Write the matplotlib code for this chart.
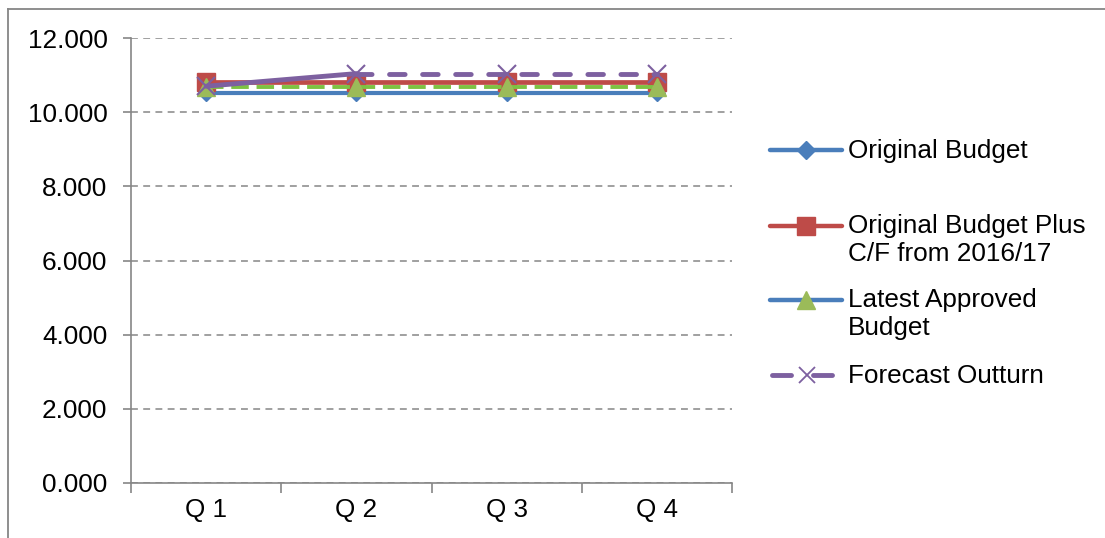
import matplotlib.pyplot as plt
from matplotlib.lines import Line2D

plt.rcParams['font.family'] = ['Liberation Sans', 'DejaVu Sans']

quarters = ["Q 1", "Q 2", "Q 3", "Q 4"]
original_budget = [10.52, 10.52, 10.52, 10.52]
budget_plus_cf = [10.82, 10.82, 10.82, 10.82]
latest_approved = [10.67, 10.67, 10.67, 10.67]
forecast_outturn = [10.70, 11.04, 11.04, 11.04]
yticks = [0, 2, 4, 6, 8, 10, 12]

BLUE = "#4A7EBB"
RED = "#BE4B48"
GREEN = "#9BBB59"
GREEN_LINE = "#7DC242"
PURPLE = "#7D60A0"
GRAY = "#868686"
FS = 18.8

W, H = 1105, 538
fig = plt.figure(figsize=(W / 100, H / 100), dpi=100)
ax = fig.add_axes([131 / W, 1 - 483 / H, 601 / W, 445 / H])

x = list(range(len(quarters)))
ax.plot(x, original_budget, color=BLUE, lw=3, marker="D", ms=8,
        mfc=BLUE, mec=BLUE, zorder=3)
ax.plot(x, budget_plus_cf, color=RED, lw=3.4, marker="s", ms=13,
        mfc=RED, mec=RED, zorder=4)
ax.plot(x, latest_approved, color=GREEN_LINE, lw=2.8, dashes=(4.5, 2),
        marker="^", ms=13, mfc=GREEN, mec=GREEN, zorder=5)
# first segment of the forecast renders solid, the rest dashed
ax.plot(x[:2], forecast_outturn[:2], color=PURPLE, lw=3.5,
        solid_capstyle="round", zorder=6)
ax.plot(x[1:], forecast_outturn[1:], color=PURPLE, lw=3.5, dashes=(3.2, 3.6),
        dash_capstyle="round", zorder=6)
ax.plot(x, forecast_outturn, ls="none", marker="x", ms=13, mew=1.5,
        mec=PURPLE, zorder=7)

ax.set_xlim(-0.5, len(quarters) - 0.5)
ax.set_ylim(0, 12)
ax.set_yticks(yticks)
ax.set_yticklabels([f"{v:.3f}" for v in yticks])
ax.set_xticks(x)
ax.set_xticklabels(quarters)
ax.set_xticks([i - 0.5 for i in range(len(quarters) + 1)], minor=True)
ax.tick_params(axis="x", which="major", length=0, pad=11, labelsize=FS)
ax.tick_params(axis="x", which="minor", length=7, color=GRAY, width=1.2)
ax.tick_params(axis="y", length=6, color=GRAY, width=1.2, pad=11, labelsize=FS)

ax.grid(axis="y", color=GRAY, ls=(0, (4.5, 3.5)), lw=1.1)
ax.set_axisbelow(True)
for s in ["top", "right"]:
    ax.spines[s].set_visible(False)
for s in ["left", "bottom"]:
    ax.spines[s].set_color(GRAY)
    ax.spines[s].set_linewidth(1.2)


def px(xp, yp):
    return xp / W, 1 - yp / H


def key(y, color, marker, mcolor, ms, dashed=False):
    x0, yy = px(770, y)
    x1, _ = px(842, y)
    if dashed:
        for a, b in [(772, 791), (813, 832)]:
            fig.add_artist(Line2D([a / W, b / W], [yy, yy], color=color, lw=3.5,
                                  solid_capstyle="round", transform=fig.transFigure))
        fig.add_artist(Line2D([807 / W], [yy], marker=marker, color=mcolor, ms=ms,
                              mew=1.3, ls="none", transform=fig.transFigure))
        return
    fig.add_artist(Line2D([x0, x1], [yy, yy], color=color, lw=3.2,
                          solid_capstyle="round", transform=fig.transFigure))
    fig.add_artist(Line2D([(x0 + x1) / 2], [yy], marker=marker, color=mcolor,
                          mec=mcolor, ms=ms, ls="none", transform=fig.transFigure))


def label(y, text):
    xt, yt = px(848, y)
    fig.text(xt, yt, text, fontsize=FS, va="top", ha="left", linespacing=1.2)


key(150, BLUE, "D", BLUE, 9)
label(139, "Original Budget")
key(226, RED, "s", RED, 13)
label(214, "Original Budget Plus\nC/F from 2016/17")
key(300, BLUE, "^", GREEN, 13)
label(288, "Latest Approved\nBudget")
key(375, PURPLE, "x", PURPLE, 12, dashed=True)
label(364, "Forecast Outturn")

# chart border (top and left edges visible)
fig.add_artist(Line2D([8 / W, 1.0], [1 - 9 / H, 1 - 9 / H], color=GRAY, lw=1.3,
                      transform=fig.transFigure))
fig.add_artist(Line2D([8 / W, 8 / W], [0, 1 - 9 / H], color=GRAY, lw=1.3,
                      transform=fig.transFigure))

fig.savefig("out.png", dpi=100)
